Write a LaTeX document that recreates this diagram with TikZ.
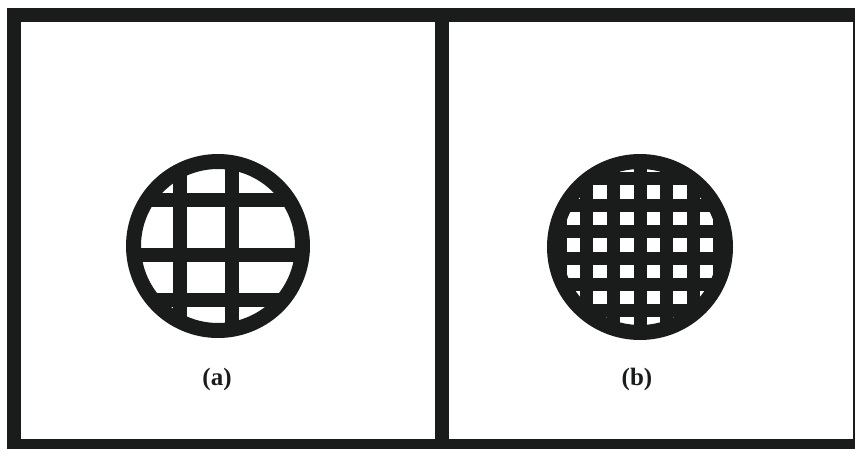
\documentclass[tikz,border=0pt]{standalone}
\usepackage{fontspec}
\setmainfont{Liberation Serif}
\definecolor{ink}{RGB}{26,28,28}

\begin{document}
\begin{tikzpicture}[x=1pt,y=-1pt,
  frameline/.style={draw=ink,line width=14pt},meshline/.style={draw=ink,line width=13.5pt},
  ring/.style={draw=ink,line width=15pt},
  tag/.style={font=\bfseries\fontsize{25}{30}\selectfont,text=ink}]
\useasboundingbox (0,0) rectangle (855,448);
\clip (0,0) rectangle (855,448);
\draw[frameline] (14,15) rectangle (860,446);
\draw[frameline] (442,15)--(442,446);
% (a) coarse mesh
\coordinate (ca) at (218,246);
\begin{scope}
\clip (ca) circle (84.5);
\foreach \x in {180,232} {\draw[meshline] (\x,150)--(\x,340);}
\foreach \y in {200,255,300} {\draw[meshline] (120,\y)--(320,\y);}
\end{scope}
\draw[ring] (ca) circle (84.5);
% (b) fine mesh
\coordinate (cb) at (640,247);
\begin{scope}
\clip (cb) circle (85.5);
\foreach \k in {-3,...,3} {\draw[meshline,line width=13pt] (640+26.6*\k,150)--(640+26.6*\k,345);
  \draw[meshline,line width=13pt] (540,258+26.4*\k)--(740,258+26.4*\k);}
\end{scope}
\draw[ring] (cb) circle (85.5);
\node[tag] (laba) at (217,379) {(a)};
\node[tag] (labb) at (637,379) {(b)};
\end{tikzpicture}
\end{document}
